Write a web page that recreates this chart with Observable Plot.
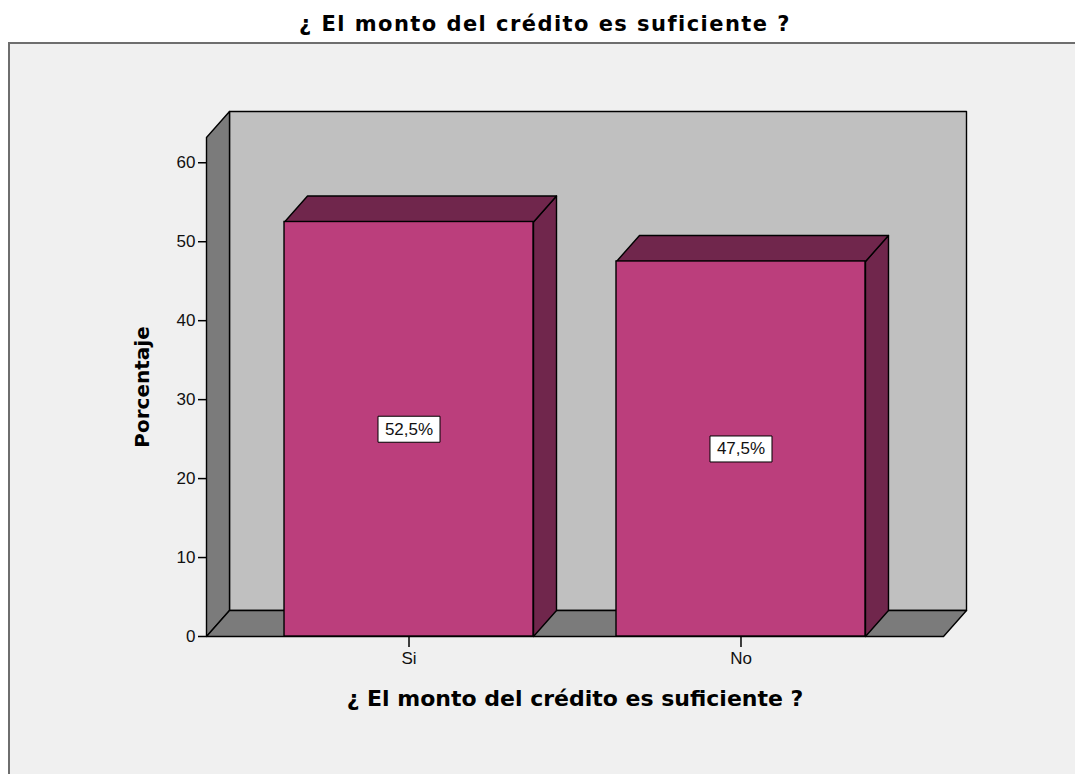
<!DOCTYPE html>
<html><head><meta charset="utf-8">
<script src="https://cdn.jsdelivr.net/npm/d3@7"></script>
<script src="https://cdn.jsdelivr.net/npm/@observablehq/plot@0.6"></script>
<style>
body{margin:0;background:#fff;}
#wrap{position:relative;width:1075px;height:774px;overflow:hidden;}
#panel{position:absolute;left:8px;top:42px;width:1100px;height:800px;background:#f0f0f0;border-left:2px solid #6e6e6e;border-top:2px solid #6e6e6e;}
#title{position:absolute;left:0;width:1090px;top:14px;text-align:center;font-family:"DejaVu Sans";font-weight:bold;font-size:21px;letter-spacing:1.45px;line-height:20px;color:#000;}
#chart{position:absolute;left:0;top:0;}
</style></head>
<body><div id="wrap"><div id="panel"></div><div id="title"></div><div id="chart"></div></div>
<script>
const categories = ["Si", "No"];
const values = [52.5, 47.5];
const labels = ["52,5%", "47,5%"];
const yTicks = [0, 10, 20, 30, 40, 50, 60];
const yMax = 63.2;
const title = "¿ El monto del crédito es suficiente ?";
const xTitle = "¿ El monto del crédito es suficiente ?";
const yLabel = "Porcentaje";

document.getElementById("title").textContent = title;

const W = 1075, H = 774, mL = 206, mR = 132, mT = 137, mB = 138;
const xDom = [-0.11, 2.11];
const depthPx = [23, 26];
const kx = (W - mL - mR) / (xDom[1] - xDom[0]);
const ky = (H - mT - mB) / yMax;
const DX = depthPx[0] / kx, DY = depthPx[1] / ky;
const half = 0.375;

function poly(id, pts) {
  const a = pts.map(([x, y]) => ({id, x, y}));
  a.push({...a[0]});
  return a;
}
const bars = categories.map((c, i) => ({c, v: values[i], label: labels[i], cx: i + 0.5, x1: i + 0.5 - half, x2: i + 0.5 + half}));
const backWall = poly("bw", [[xDom[0] + DX, DY], [xDom[1] + DX, DY], [xDom[1] + DX, yMax + DY], [xDom[0] + DX, yMax + DY]]);
const leftWall = poly("lw", [[xDom[0], 0], [xDom[0], yMax], [xDom[0] + DX, yMax + DY], [xDom[0] + DX, DY]]);
const floor = poly("fl", [[xDom[0], 0], [xDom[1], 0], [xDom[1] + DX, DY], [xDom[0] + DX, DY]]);
const tops = bars.flatMap(b => poly("t" + b.c, [[b.x1, b.v], [b.x2, b.v], [b.x2 + DX, b.v + DY], [b.x1 + DX, b.v + DY]]));
const sides = bars.flatMap(b => poly("s" + b.c, [[b.x2, 0], [b.x2, b.v], [b.x2 + DX, b.v + DY], [b.x2 + DX, DY]]));

const boxSymbol = {draw(ctx) { ctx.moveTo(-31, -13); ctx.lineTo(31, -13); ctx.lineTo(31, 13); ctx.lineTo(-31, 13); ctx.closePath(); }};

const front = "#bb3e7c", dark = "#70264c", wallGrey = "#7b7b7b", back = "#c0c0c0";
const sw = 1.4;

const chart = Plot.plot({
  width: W, height: H,
  marginLeft: mL, marginRight: mR, marginTop: mT, marginBottom: mB,
  style: {fontFamily: "Liberation Sans", fontSize: "17px", background: "transparent", color: "#111", overflow: "visible"},
  x: {type: "linear", domain: xDom},
  y: {domain: [0, yMax]},
  marks: [
    Plot.line(backWall, {x: "x", y: "y", z: "id", fill: back, stroke: "#000", strokeWidth: sw}),
    Plot.line(leftWall, {x: "x", y: "y", z: "id", fill: wallGrey, stroke: "#000", strokeWidth: sw}),
    Plot.line(floor, {x: "x", y: "y", z: "id", fill: wallGrey, stroke: "#000", strokeWidth: sw}),
    Plot.line(sides, {x: "x", y: "y", z: "id", fill: dark, stroke: "#000", strokeWidth: sw}),
    Plot.line(tops, {x: "x", y: "y", z: "id", fill: dark, stroke: "#000", strokeWidth: sw}),
    Plot.rectY(bars, {x1: "x1", x2: "x2", y1: 0, y2: "v", fill: front, stroke: "#000", strokeWidth: sw}),
    Plot.axisY({ticks: yTicks, tickSize: 8, tickPadding: 3, label: null, stroke: "#000", strokeWidth: 1.5}),
    Plot.axisX({ticks: bars.map(b => b.cx), tickFormat: d => categories[Math.round(d - 0.5)], tickSize: 11, tickPadding: 4, label: null, stroke: "#000", strokeWidth: 1.5}),
    Plot.dot(bars, {x: "cx", y: d => d.v / 2, symbol: boxSymbol, fill: "white", stroke: "#000", strokeWidth: 1}),
    Plot.text(bars, {x: "cx", y: d => d.v / 2, text: "label", fontSize: 17, fill: "#111"}),
    Plot.text([yLabel], {frameAnchor: "left", textAnchor: "middle", text: d => d, rotate: -90, dx: -64, fontSize: 20, fontWeight: "bold", fontFamily: "DejaVu Sans", fill: "#000"}),
    Plot.text([xTitle], {frameAnchor: "bottom", lineAnchor: "middle", text: d => d, dy: 62, fontSize: 22, fontWeight: "bold", fontFamily: "DejaVu Sans", fill: "#000"})
  ]
});
document.getElementById("chart").appendChild(chart);
</script>
</body></html>
